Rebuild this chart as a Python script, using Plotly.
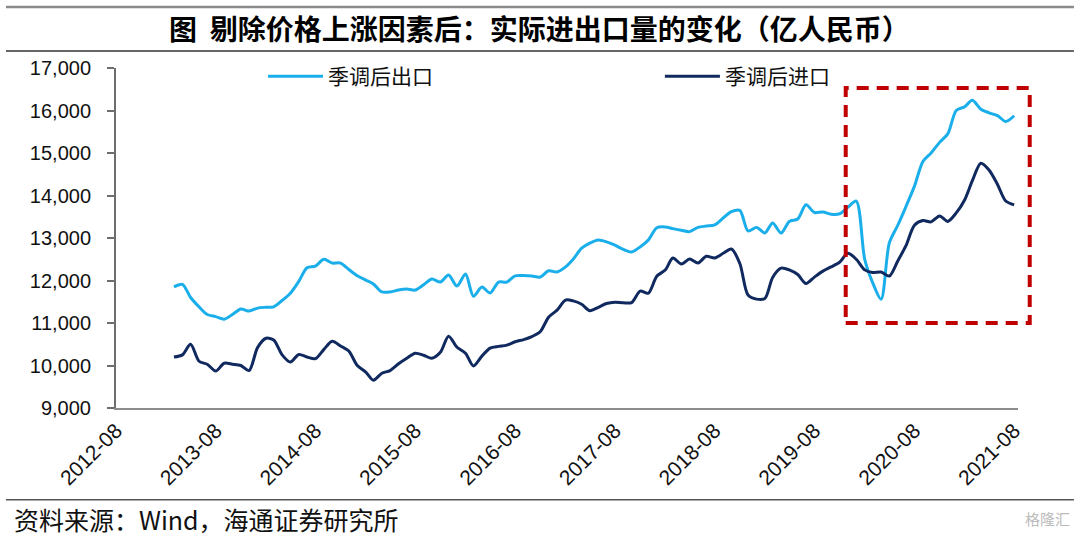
import pandas as pd
import plotly.graph_objects as go

# ---- data ----
months = pd.date_range("2013-03-01", "2021-08-01", freq="MS")

exports_sa = [
    11850, 11910, 11600, 11380, 11200, 11150, 11090, 11200, 11330, 11280,
    11350, 11370, 11380, 11530, 11700, 11980, 12300, 12340, 12500, 12410,
    12410, 12260, 12110, 12010, 11920, 11730, 11730, 11775, 11800, 11775,
    11900, 12034, 11963, 12128, 11869, 12152, 11630, 11846, 11704, 11963,
    11963, 12110, 12115, 12104, 12081, 12230, 12200, 12320, 12500, 12760,
    12880, 12953, 12910, 12830, 12730, 12670, 12790, 12950, 13240, 13260,
    13220, 13180, 13150, 13250, 13280, 13307, 13470, 13620, 13650, 13166,
    13250, 13120, 13354, 13118, 13390, 13448, 13780, 13600, 13613, 13560,
    13570, 13720, 13870, 12500, 11950, 11560, 12882, 13300, 13740, 14220,
    14800, 15000, 15250, 15450, 16000, 16090, 16240, 16030, 15946, 15880,
    15740, 15876,
]

imports_sa = [
    10200, 10250, 10500, 10100, 10030, 9870, 10053, 10030, 10000, 9880,
    10420, 10640, 10600, 10250, 10080, 10260, 10200, 10160, 10380, 10570,
    10460, 10340, 10000, 9845, 9655, 9818, 9880, 10040, 10170, 10290,
    10240, 10171, 10310, 10690, 10430, 10290, 9990, 10220, 10410, 10450,
    10480, 10560, 10610, 10680, 10800, 11137, 11302, 11540, 11520, 11440,
    11290, 11370, 11460, 11490, 11475, 11480, 11750, 11700, 12100, 12246,
    12529, 12387, 12505, 12411, 12570, 12530, 12640, 12741, 12400, 11657,
    11562, 11580, 12070, 12290, 12250, 12140, 11930, 12080, 12220, 12320,
    12430, 12640, 12500, 12250, 12190, 12199, 12105, 12460, 12820, 13300,
    13410, 13380, 13518, 13390, 13590, 13900, 14350, 14760, 14600, 14260,
    13870, 13780,
]

series_names = ["季调后出口", "季调后进口"]
title_text = "图  剔除价格上涨因素后：实际进出口量的变化（亿人民币）"
source_text = "资料来源：Wind，海通证券研究所"
y_ticks = [9000, 10000, 11000, 12000, 13000, 14000, 15000, 16000, 17000]

# ---- figure ----
CJK = "Noto Sans CJK SC"
NUM = "Liberation Sans, Arial, sans-serif"

fig = go.Figure()
fig.add_trace(go.Scatter(
    x=months, y=exports_sa, name=series_names[0], mode="lines",
    line=dict(color="#1AAEEA", width=3, shape="spline", smoothing=0.8),
    legend="legend",
))
fig.add_trace(go.Scatter(
    x=months, y=imports_sa, name=series_names[1], mode="lines",
    line=dict(color="#10295E", width=3, shape="spline", smoothing=0.8),
    legend="legend2",
))

fig.update_layout(
    width=1080, height=539,
    margin=dict(l=116, r=62, t=68, b=131),
    paper_bgcolor="white", plot_bgcolor="white",
    font=dict(family=NUM, color="#111111", size=20),
    showlegend=True,
    legend=dict(x=0.163, y=0.975, xanchor="left", yanchor="middle",
                orientation="h", bgcolor="rgba(0,0,0,0)", itemwidth=55,
                font=dict(family=CJK, size=21, color="#111111")),
    legend2=dict(x=0.603, y=0.975, xanchor="left", yanchor="middle",
                 orientation="h", bgcolor="rgba(0,0,0,0)", itemwidth=55,
                 font=dict(family=CJK, size=21, color="#111111")),
)

fig.update_xaxes(
    type="date",
    range=["2012-08-01", "2021-08-15"],
    tick0="2012-08-01", dtick="M12", tickformat="%Y-%m",
    tickangle=-45, ticks="",
    showgrid=False, zeroline=False,
    showline=True, linecolor="#8C8C8C", linewidth=2,
    tickfont=dict(family=NUM, size=21, color="#111111"),
)
fig.update_yaxes(
    range=[9000, 17000],
    tickvals=y_ticks, tickformat=",d",
    ticks="outside", ticklen=7, tickwidth=2, tickcolor="#6E6E6E",
    ticklabelstandoff=12,
    showgrid=False, zeroline=False,
    showline=True, linecolor="#6E6E6E", linewidth=2,
    tickfont=dict(family=NUM, size=20, color="#111111"),
)

# red dashed highlight box (paper coords so it can pass the axis end)
fig.add_shape(type="rect", xref="paper", yref="paper",
              x0=0.809, x1=1.013, y0=0.25, y1=0.941,
              line=dict(color="#C00000", width=4, dash="12px,8px"),
              fillcolor="rgba(0,0,0,0)", layer="above")

# header / footer rules
fig.add_shape(type="rect", xref="paper", yref="paper",
              x0=-0.122, x1=1.062, y0=1.176, y1=1.183,
              line=dict(width=0), fillcolor="#8A8A8A", layer="above")
for yy, col, w in [(1.05, "#333333", 1.5), (-0.27, "#555555", 1.5)]:
    fig.add_shape(type="line", xref="paper", yref="paper",
                  x0=-0.122, x1=1.062, y0=yy, y1=yy,
                  line=dict(color=col, width=w))

fig.add_annotation(text=title_text, xref="paper", yref="paper",
                   x=0.47, y=1.118, xanchor="center", yanchor="middle",
                   showarrow=False,
                   font=dict(family=CJK, size=28, color="#000000", weight="bold"))
fig.add_annotation(text=source_text, xref="paper", yref="paper",
                   x=-0.115, y=-0.325, xanchor="left", yanchor="middle",
                   showarrow=False,
                   font=dict(family=CJK, size=25, color="#111111"))
fig.add_annotation(text="格隆汇", xref="paper", yref="paper",
                   x=1.06, y=-0.325, xanchor="right", yanchor="middle",
                   showarrow=False,
                   font=dict(family=CJK, size=15, color="#BBBBBB"))

fig.write_html(
    "out.html",
    config={"displayModeBar": False},
    post_script="document.body.style.margin='0';document.body.style.padding='0';document.body.style.overflow='hidden';",
)
